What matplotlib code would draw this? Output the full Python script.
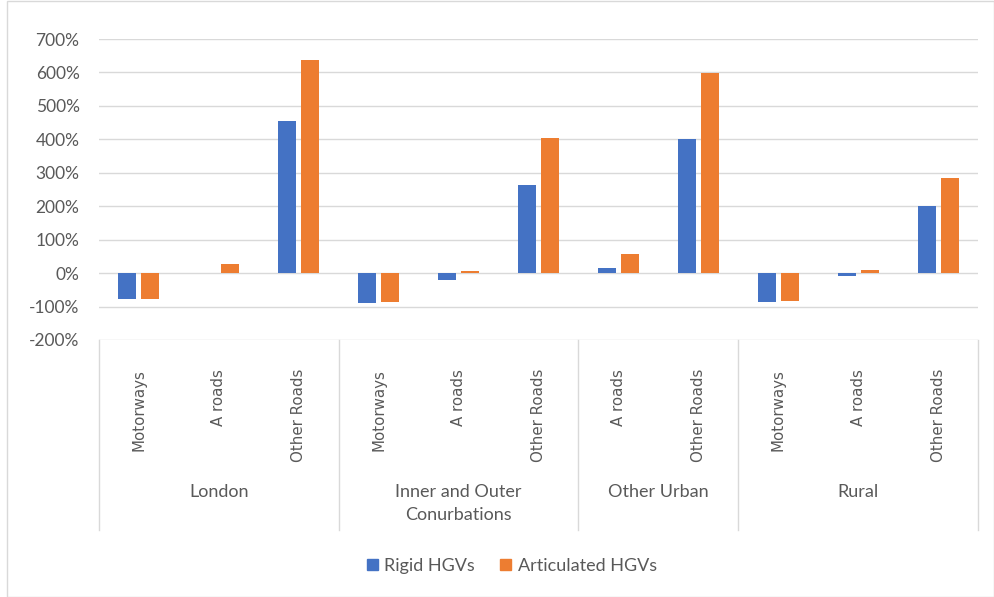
import matplotlib
matplotlib.use("Agg")
import matplotlib.pyplot as plt
from matplotlib.patches import Rectangle, Patch
from matplotlib.ticker import FuncFormatter
import numpy as np

plt.rcParams['font.family'] = ['Lato', 'DejaVu Sans']

# data (percent change)
groups = ['London', 'Inner and Outer\nConurbations', 'Other Urban', 'Rural']
road_types = [['Motorways', 'A roads', 'Other Roads'],
              ['Motorways', 'A roads', 'Other Roads'],
              ['A roads', 'Other Roads'],
              ['Motorways', 'A roads', 'Other Roads']]
rigid = [-78, 0, 455, -88, -22, 262, 15, 402, -85, -8, 200]
articulated = [-78, 27, 637, -86, 5, 403, 58, 598, -84, 10, 283]

blue = '#4472C4'
orange = '#ED7D31'
grey_txt = '#595959'
grid_c = '#D9D9D9'

W, H = 995, 597
fig = plt.figure(figsize=(W / 100, H / 100), dpi=100)
fig.patches.append(Rectangle((7 / W, 0), 1 - 8 / W, 1 - 1 / H, transform=fig.transFigure,
                             fill=False, edgecolor=grid_c, linewidth=1))

left, right, top, bottom = 99, 978, 39, 340
ax = fig.add_axes([left / W, 1 - bottom / H, (right - left) / W, (bottom - top) / H])

x = np.arange(len(rigid))
bw = 0.225
off = 0.144
ax.bar(x - off, np.array(rigid) / 100, bw, color=blue, zorder=3)
ax.bar(x + off, np.array(articulated) / 100, bw, color=orange, zorder=3)

ax.set_xlim(-0.5, len(rigid) - 0.5)
ax.set_ylim(-2, 7)
ax.set_yticks(np.arange(-2, 8, 1))
ax.yaxis.set_major_formatter(FuncFormatter(lambda v, p: f"{int(round(v * 100))}%"))
ax.tick_params(axis='y', length=0, labelsize=12.5, labelcolor=grey_txt, pad=14)
ax.set_xticks([])
ax.grid(axis='y', color=grid_c, linewidth=1, zorder=0)
for s in ax.spines.values():
    s.set_visible(False)

px = (bottom - top)  # axes height in pixels


def ay(ypix):
    return (bottom - ypix) / px


# subcategory labels and group labels
trans = ax.get_xaxis_transform()
labels = [r for g in road_types for r in g]
for i, lab in enumerate(labels):
    ax.text(i, ay(369), lab, rotation=90, ha='center', va='top', fontsize=10.8,
            color=grey_txt, transform=trans, family='DejaVu Sans')

start = -0.5
ax.plot([start, start], [0, ay(530)], color=grid_c, lw=1, transform=trans, clip_on=False)
for g, rt in zip(groups, road_types):
    end = start + len(rt)
    ax.text((start + end) / 2, ay(484), g, ha='center', va='top', fontsize=13,
            color=grey_txt, transform=trans, linespacing=1.55)
    ax.plot([end, end], [0, ay(530)], color=grid_c, lw=1, transform=trans, clip_on=False)
    start = end

handles = [Patch(color=blue, label='Rigid HGVs'), Patch(color=orange, label='Articulated HGVs')]
leg = fig.legend(handles=handles, loc='center', bbox_to_anchor=(512 / W, 1 - 566 / H), ncol=2,
                 frameon=False, fontsize=13, handlelength=0.6, handleheight=0.6,
                 handletextpad=0.35, columnspacing=1.4)
for t in leg.get_texts():
    t.set_color(grey_txt)

fig.savefig('out.png', dpi=100)
